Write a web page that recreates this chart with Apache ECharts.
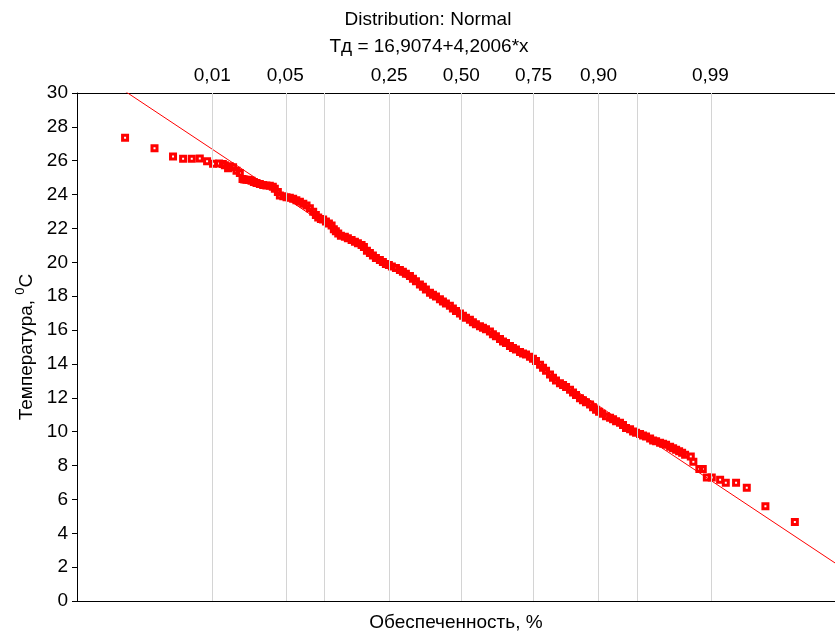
<!DOCTYPE html>
<html>
<head>
<meta charset="utf-8">
<title>Distribution: Normal</title>
<script src="https://cdn.jsdelivr.net/npm/echarts@6/dist/echarts.min.js"></script>
<style>
  html, body { margin: 0; padding: 0; background: #ffffff; }
  #chart { width: 835px; height: 637px; }
</style>
</head>
<body>
<div id="chart"></div>
<script>
// Normal scores (x of the fitted equation) of the ranked observations
const normalScore = [
  3.141, 2.866, 2.693, 2.599, 2.518, 2.443, 2.375, 2.319,
  2.263, 2.228, 2.209, 2.179, 2.163, 2.132, 2.100, 2.069, 2.044, 2.027,
  2.007, 1.985, 1.960, 1.938, 1.913, 1.882, 1.851, 1.821, 1.789, 1.761,
  1.742, 1.714, 1.695, 1.663, 1.633, 1.602, 1.571, 1.541, 1.508, 1.476,
  1.446, 1.415, 1.384, 1.359, 1.337, 1.312, 1.291, 1.265, 1.237, 1.212,
  1.191, 1.172, 1.150, 1.125, 1.088, 1.060, 1.025, 0.994, 0.966, 0.932,
  0.910, 0.882, 0.854, 0.826, 0.798, 0.761, 0.733, 0.705, 0.677, 0.649,
  0.611, 0.574, 0.546, 0.518, 0.480, 0.452, 0.424, 0.387, 0.359, 0.331,
  0.293, 0.265, 0.237, 0.200, 0.172, 0.144, 0.107, 0.079, 0.050, 0.013,
  -0.015, -0.043, -0.080, -0.108, -0.136, -0.174, -0.202, -0.230, -0.267, -0.295,
  -0.323, -0.361, -0.389, -0.417, -0.454, -0.482, -0.510, -0.548, -0.576, -0.604,
  -0.641, -0.669, -0.697, -0.735, -0.763, -0.791, -0.828, -0.856, -0.884, -0.921,
  -0.950, -0.978, -1.015, -1.043, -1.071, -1.108, -1.136, -1.164, -1.202, -1.230,
  -1.258, -1.286, -1.314, -1.351, -1.389, -1.417, -1.445, -1.482, -1.510, -1.538,
  -1.576, -1.604, -1.632, -1.669, -1.697, -1.725, -1.763, -1.791, -1.819, -1.856,
  -1.884, -1.912, -1.950, -1.978, -2.006, -2.034, -2.062, -2.090,
  -2.143, -2.167, -2.223, -2.255, -2.293, -2.339, -2.417, -2.470, -2.566, -2.666,
  -2.840, -3.115
];

// Temperature, °C
const temperature = [
  27.36, 26.73, 26.25, 26.11, 26.11, 26.13, 25.97, 25.82,
  25.84, 25.80, 25.74, 25.55, 25.68, 25.61, 25.41, 25.27, 24.92, 24.89,
  24.88, 24.86, 24.82, 24.75, 24.69, 24.63, 24.57, 24.54, 24.53, 24.46,
  24.34, 24.16, 23.95, 23.90, 23.85, 23.81, 23.76, 23.67, 23.58, 23.46,
  23.36, 23.20, 22.98, 22.79, 22.65, 22.56, 22.53, 22.41, 22.30, 22.18,
  21.95, 21.83, 21.71, 21.57, 21.51, 21.42, 21.32, 21.22, 21.13, 21.03,
  20.90, 20.69, 20.55, 20.40, 20.25, 20.14, 20.02, 19.90, 19.84, 19.76,
  19.67, 19.55, 19.44, 19.32, 19.19, 19.03, 18.88, 18.69, 18.56, 18.39,
  18.21, 18.09, 17.98, 17.82, 17.69, 17.57, 17.43, 17.28, 17.13, 16.98,
  16.84, 16.72, 16.61, 16.46, 16.34, 16.23, 16.14, 16.05, 15.91, 15.76,
  15.64, 15.47, 15.32, 15.23, 15.06, 14.94, 14.85, 14.71, 14.62, 14.56,
  14.42, 14.30, 14.18, 13.95, 13.77, 13.60, 13.37, 13.19, 13.02, 12.86,
  12.75, 12.64, 12.47, 12.32, 12.17, 11.98, 11.85, 11.73, 11.60, 11.44,
  11.29, 11.18, 11.06, 10.91, 10.82, 10.74, 10.62, 10.52, 10.39, 10.21,
  10.14, 10.01, 9.94, 9.86, 9.78, 9.72, 9.60, 9.48, 9.43, 9.34,
  9.28, 9.22, 9.11, 9.02, 8.93, 8.84, 8.76, 8.64,
  8.54, 8.23, 7.80, 7.80, 7.30, 7.30, 7.16, 6.99, 6.99, 6.69,
  5.60, 4.67
];

// Probability scale shown along the top edge
const probTicks = [0.01, 0.05, 0.25, 0.50, 0.75, 0.90, 0.99];
const probTickLabels = ['0,01', '0,05', '0,25', '0,50', '0,75', '0,90', '0,99'];
const probGridLines = [0.01, 0.05, 0.10, 0.25, 0.50, 0.75, 0.90, 0.95, 0.99];

// Fitted line: Тд = a + b*x
const fitIntercept = 16.9074;
const fitSlope = 4.2006;

const xMin = -3.49;
const xMax = 3.59;

// Inverse of the standard normal CDF (Acklam's rational approximation)
function normInv(p) {
  const a = [-3.969683028665376e+01, 2.209460984245205e+02, -2.759285104469687e+02,
             1.383577518672690e+02, -3.066479806614716e+01, 2.506628277459239e+00];
  const b = [-5.447609879822406e+01, 1.615858368580409e+02, -1.556989798598866e+02,
             6.680131188771972e+01, -1.328068155288572e+01];
  const c = [-7.784894002430293e-03, -3.223964580411365e-01, -2.400758277161838e+00,
             -2.549732539343734e+00, 4.374664141464968e+00, 2.938163982698783e+00];
  const d = [7.784695709041462e-03, 3.224671290700398e-01, 2.445134137142996e+00,
             3.754408661907416e+00];
  const pLow = 0.02425, pHigh = 1 - pLow;
  let q, r;
  if (p < pLow) {
    q = Math.sqrt(-2 * Math.log(p));
    return (((((c[0]*q + c[1])*q + c[2])*q + c[3])*q + c[4])*q + c[5]) /
           ((((d[0]*q + d[1])*q + d[2])*q + d[3])*q + 1);
  }
  if (p <= pHigh) {
    q = p - 0.5; r = q * q;
    return (((((a[0]*r + a[1])*r + a[2])*r + a[3])*r + a[4])*r + a[5]) * q /
           (((((b[0]*r + b[1])*r + b[2])*r + b[3])*r + b[4])*r + 1);
  }
  q = Math.sqrt(-2 * Math.log(1 - p));
  return -(((((c[0]*q + c[1])*q + c[2])*q + c[3])*q + c[4])*q + c[5]) /
          ((((d[0]*q + d[1])*q + d[2])*q + d[3])*q + 1);
}

// Exceedance probability p sits at x = -z(p)
const probToX = p => -normInv(p);

const FONT = 'Liberation Sans, Arial, Helvetica, sans-serif';
const points = normalScore.map((x, i) => [x, temperature[i]]);
const fitLine = [xMin, xMax].map(x => [x, fitIntercept + fitSlope * x]);
const tickXs = probTicks.map(probToX);

const chart = echarts.init(document.getElementById('chart'), null, { renderer: 'canvas' });

chart.setOption({
  animation: false,
  backgroundColor: '#ffffff',
  textStyle: { fontFamily: FONT },
  graphic: [
    {
      type: 'text', x: 428, y: 20, silent: true,
      style: { text: 'Distribution: Normal', font: '19px ' + FONT, fill: '#000',
               textAlign: 'center', textVerticalAlign: 'middle' }
    },
    {
      type: 'text', x: 429, y: 47, silent: true,
      style: { text: 'Тд = 16,9074+4,2006*x', font: '19px ' + FONT, fill: '#000',
               textAlign: 'center', textVerticalAlign: 'middle' }
    }
  ],
  grid: { left: 77, right: 0, top: 93, bottom: 30, containLabel: false },
  xAxis: [
    {
      type: 'value', position: 'bottom', min: xMin, max: xMax, inverse: true,
      axisLine: { show: true, onZero: false, lineStyle: { color: '#000', width: 1 } },
      axisTick: { show: false }, axisLabel: { show: false }, splitLine: { show: false },
      name: 'Обеспеченность, %', nameLocation: 'middle', nameGap: 12,
      nameTextStyle: { fontSize: 19, color: '#000', fontFamily: FONT, verticalAlign: 'top' }
    },
    {
      type: 'value', position: 'top', min: xMin, max: xMax, inverse: true,
      axisLine: { show: true, onZero: false, lineStyle: { color: '#000', width: 1 } },
      axisTick: { show: false }, splitLine: { show: false },
      axisLabel: {
        show: true, customValues: tickXs, margin: 8, fontSize: 19, color: '#000', fontFamily: FONT,
        formatter: v => {
          let best = 0;
          tickXs.forEach((t, i) => { if (Math.abs(t - v) < Math.abs(tickXs[best] - v)) best = i; });
          return probTickLabels[best];
        }
      }
    }
  ],
  yAxis: {
    type: 'value', min: 0, max: 30, interval: 2,
    axisLine: { show: true, onZero: false, lineStyle: { color: '#000', width: 1 } },
    axisTick: { show: true, inside: false, length: 5, lineStyle: { color: '#000' } },
    axisLabel: { fontSize: 19, color: '#000', margin: 9, fontFamily: FONT },
    splitLine: { show: false },
    name: '{n|Температура, }{s|0}{n|C}', nameLocation: 'middle', nameGap: 41, nameRotate: 90,
    nameTextStyle: {
      color: '#000', fontFamily: FONT, fontSize: 19,
      rich: {
        n: { fontSize: 19, fontFamily: FONT, color: '#000', lineHeight: 22, verticalAlign: 'bottom' },
        s: { fontSize: 13, fontFamily: FONT, color: '#000', lineHeight: 22, verticalAlign: 'top' }
      }
    }
  },
  series: [
    {
      // vertical reference lines at probability levels
      type: 'line', data: [], z: 1, silent: true,
      markLine: {
        silent: true, symbol: ['none', 'none'], animation: false,
        label: { show: false },
        lineStyle: { color: '#d4d4d4', width: 1, type: 'solid' },
        data: probGridLines.map(p => ({ xAxis: probToX(p) }))
      }
    },
    {
      type: 'scatter', data: points, z: 3,
      symbol: 'rect', symbolSize: 5,
      itemStyle: { color: 'rgba(255,255,255,0)', borderColor: '#ff0000', borderWidth: 3, opacity: 1 }
    },
    {
      type: 'line', data: fitLine, z: 4, showSymbol: false, symbol: 'none', clip: true,
      lineStyle: { color: '#ff0000', width: 1 }
    }
  ]
});
</script>
</body>
</html>
